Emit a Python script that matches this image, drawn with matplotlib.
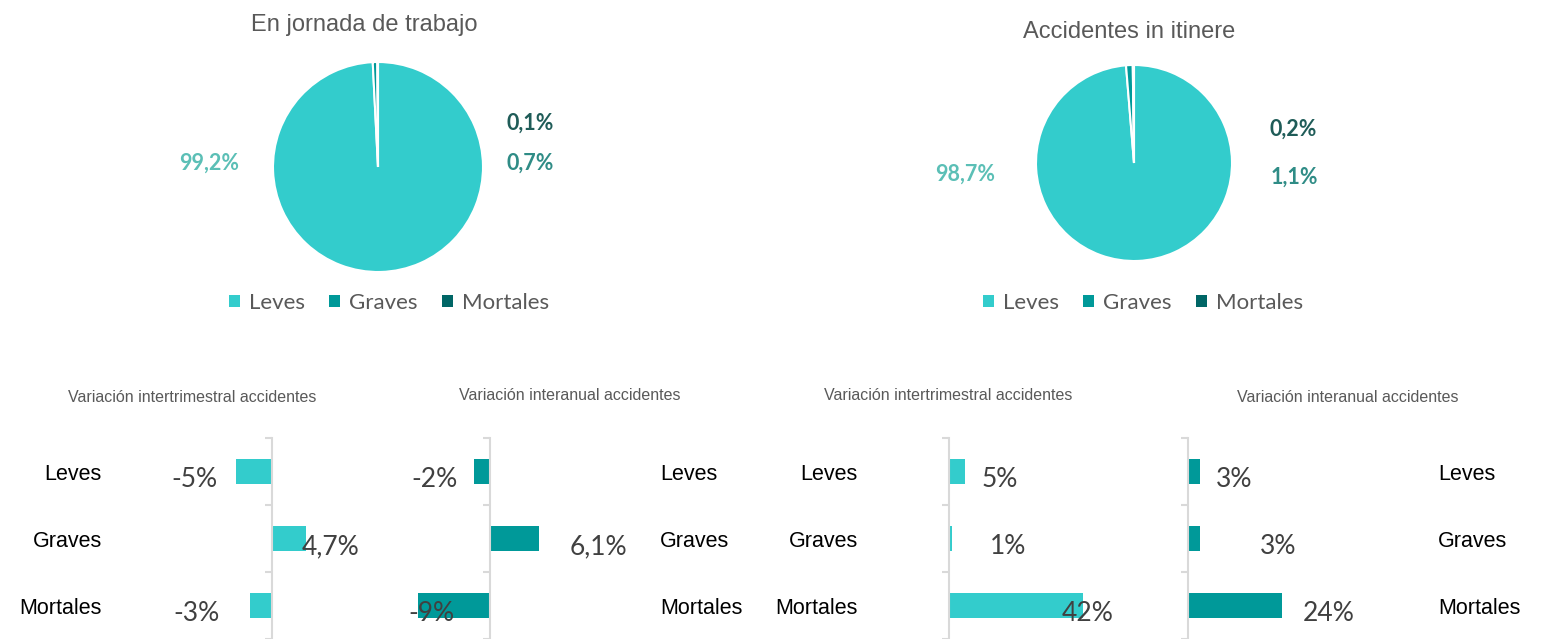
import matplotlib
matplotlib.use('Agg')
import matplotlib.pyplot as plt
from matplotlib.patches import Patch
from matplotlib import transforms

# datos
categorias = ['Leves', 'Graves', 'Mortales']
pie_jornada = [99.2, 0.7, 0.1]
pie_itinere = [98.7, 1.1, 0.2]
var_trim_jornada = [-5, 4.7, -3]
var_anual_jornada = [-2, 6.1, -9]
var_trim_itinere = [5, 1, 42]
var_anual_itinere = [3, 3, 24]

W, H = 1542, 639
colores = ['#33CCCC', '#009999', '#006666']
col_txt = ['#5BBFB6', '#2F8C86', '#1F5C58']
gris = '#595959'
fuente_num = 'Lato'
fuente_txt = 'Liberation Sans'


def rect(x0, y0, w, h):
    # pixeles (origen arriba-izquierda) -> fraccion de figura
    return [x0 / W, 1 - (y0 + h) / H, w / W, h / H]


def fmt(v, dec=None):
    s = f'{v:.{dec}f}' if dec is not None else f'{v:g}'
    return s.replace('.', ',') + '%'


fig = plt.figure(figsize=(W / 100, H / 100), dpi=100)

# ---------- tartas ----------
def tarta(valores, cx, cy, r, titulo, tpos, lpos, legpos):
    ax = fig.add_axes(rect(cx - r, cy - r, 2 * r, 2 * r))
    ax.pie(valores, colors=colores, startangle=90, counterclock=False,
           wedgeprops=dict(edgecolor='white', linewidth=1.5))
    ax.set_xlim(-1, 1)
    ax.set_ylim(-1, 1)
    fig.text(tpos[0] / W, 1 - tpos[1] / H, titulo, ha='center', va='center',
             fontsize=17, color=gris, family=fuente_txt)
    for v, (x, y), c in zip(valores, lpos, col_txt):
        fig.text(x / W, 1 - y / H, fmt(v, 1), ha='center', va='center',
                 fontsize=15.5, color=c, family=fuente_num, fontweight='bold')
    handles = [Patch(facecolor=c, edgecolor='none') for c in colores]
    fig.legend(handles, categorias, loc='center',
               bbox_to_anchor=(legpos[0] / W, 1 - legpos[1] / H), ncol=3,
               frameon=False, handlelength=0.5, handleheight=0.5,
               handletextpad=0.4, columnspacing=1.1,
               prop=dict(family=fuente_num, size=16),
               labelcolor=gris)


tarta(pie_jornada, 378, 167, 105, 'En jornada de trabajo', (364, 25),
      [(209, 163), (530, 163), (530, 123)], (389, 303))
tarta(pie_itinere, 1134, 163, 98, 'Accidentes in itinere', (1129, 32),
      [(965, 174), (1294, 177), (1293, 129)], (1143, 303))


# ---------- barras ----------
def barras(valores, cero, escala, color, titulo, tpos, cat_x, cat_ha, dx):
    ax = fig.add_axes(rect(cero - 220, 438, 440, 201))
    ax.set_facecolor('none')
    ax.barh(range(3), valores, height=0.36, color=color)
    ax.set_xlim(-220 / escala, 220 / escala)
    ax.set_ylim(2.5, -0.5)
    for s in ['top', 'right', 'bottom']:
        ax.spines[s].set_visible(False)
    ax.spines['left'].set_position(('data', 0))
    ax.spines['left'].set_color('#D9D9D9')
    ax.spines['left'].set_linewidth(1.5)
    ax.set_yticks([-0.5, 0.5, 1.5, 2.5])
    ax.set_yticklabels([])
    ax.tick_params(axis='y', length=5, width=1.5, color='#D9D9D9')
    ax.set_xticks([])
    fig.text(tpos[0] / W, 1 - tpos[1] / H, titulo, ha='center', va='center',
             fontsize=11.5, color=gris, family=fuente_txt)
    tr = transforms.blended_transform_factory(fig.transFigure, ax.transData)
    for i, cat in enumerate(categorias):
        ax.text(cat_x / W, i + 0.05, cat, transform=tr, ha=cat_ha, va='center',
                fontsize=15.5, color='black', family=fuente_txt)
    for i, (v, d) in enumerate(zip(valores, dx)):
        ax.annotate(fmt(v), xy=(v, i), xytext=(d * 0.72, -6),
                    textcoords='offset points',
                    ha='left' if v >= 0 else 'right', va='center',
                    fontsize=19, color='#404040', family=fuente_num)


barras(var_trim_jornada, 272, 7.3, colores[0],
       'Variación intertrimestral accidentes', (192, 398), 102, 'right',
       [-18, -5, -30])
barras(var_anual_jornada, 490, 8.0, colores[1],
       'Variación interanual accidentes', (570, 396), 660, 'left',
       [-16, 31, 37])
barras(var_trim_itinere, 949, 3.2, colores[0],
       'Variación intertrimestral accidentes', (948, 396), 858, 'right',
       [17, 38, -22])
barras(var_anual_itinere, 1188, 3.9, colores[1],
       'Variación interanual accidentes', (1348, 398), 1438, 'left',
       [16, 60, 21])

fig.savefig('out.png', dpi=100)
